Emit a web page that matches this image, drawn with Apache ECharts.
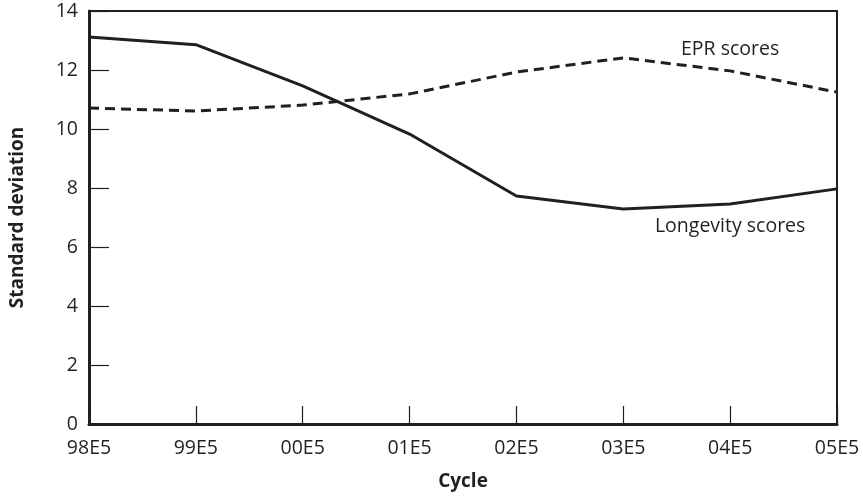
<!DOCTYPE html>
<html>
<head>
<meta charset="utf-8">
<script src="https://cdn.jsdelivr.net/npm/echarts@6/dist/echarts.min.js"></script>
<style>html,body{margin:0;padding:0;background:#fff}#c{width:863px;height:497px}</style>
</head>
<body>
<div id="c"></div>
<script>
const categories = ['98E5','99E5','00E5','01E5','02E5','03E5','04E5','05E5'];
const longevity = [13.12, 12.86, 11.46, 9.83, 7.73, 7.29, 7.46, 7.97];
const epr = [10.71, 10.61, 10.81, 11.19, 11.93, 12.41, 11.97, 11.25];
const labelIndex = 6;

const ink = '#231f20';
const font = 'Open Sans';

function withLabel(arr, name, pos, dist) {
  return arr.map((v, i) => i === labelIndex ? {
    value: v,
    label: { show: true, position: pos, distance: dist, formatter: name,
      fontFamily: font, fontSize: 19.5, color: ink }
  } : v);
}

const chart = echarts.init(document.getElementById('c'));
chart.setOption({
  animation: false,
  grid: { left: 88, right: 26, top: 11, bottom: 73, show: true, borderColor: ink, borderWidth: 2, backgroundColor: 'transparent' },
  xAxis: {
    type: 'category', data: categories, boundaryGap: false,
    name: 'Cycle', nameLocation: 'middle', nameGap: 48,
    nameTextStyle: { fontFamily: font, fontSize: 19, fontWeight: 'bold', color: ink },
    axisLine: { lineStyle: { color: ink, width: 3 } },
    axisTick: { inside: true, length: 18, lineStyle: { color: ink, width: 1.2 } },
    axisLabel: { margin: 14, fontFamily: font, fontSize: 19.5, color: ink, showMinLabel: true, showMaxLabel: true },
    splitLine: { show: false }
  },
  yAxis: {
    type: 'value', min: 0, max: 14, interval: 2,
    name: 'Standard deviation', nameLocation: 'middle', nameGap: 62, nameRotate: 90,
    nameTextStyle: { fontFamily: font, fontSize: 19, fontWeight: 'bold', color: ink },
    axisLine: { show: true, lineStyle: { color: ink, width: 3 } },
    axisTick: { show: true, inside: true, length: 20, lineStyle: { color: ink, width: 1.2 } },
    axisLabel: { margin: 11, fontFamily: font, fontSize: 19.5, color: ink },
    splitLine: { show: false }
  },
  series: [
    {
      name: 'Longevity scores', type: 'line', data: withLabel(longevity, 'Longevity scores', 'bottom', 13),
      symbol: 'circle', symbolSize: 0, showSymbol: true,
      lineStyle: { color: ink, width: 3, type: 'solid' }, itemStyle: { color: ink }
    },
    {
      name: 'EPR scores', type: 'line', data: withLabel(epr, 'EPR scores', 'top', 11),
      symbol: 'circle', symbolSize: 0, showSymbol: true,
      lineStyle: { color: ink, width: 3, type: [10, 6] }, itemStyle: { color: ink }
    }
  ]
});
</script>
</body>
</html>
